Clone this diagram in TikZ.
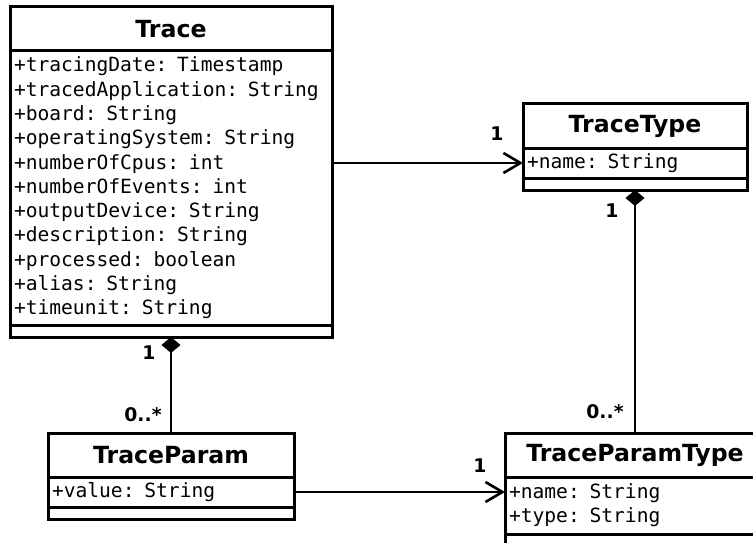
\documentclass[tikz,border=0pt]{standalone}
\usepackage{fontspec}
\setmainfont{DejaVu Sans}
\setmonofont{DejaVu Sans Mono}
\usetikzlibrary{arrows.meta,positioning,calc}

\begin{document}
\begin{tikzpicture}[x=1pt,y=1pt]
\tikzstyle{trait}=[line width=3pt]
\tikzstyle{lien}=[line width=2.6pt]
\tikzstyle{titre}=[draw,trait,outer sep=0pt,inner sep=0pt,minimum height=44pt,font=\bfseries\fontsize{23.6}{28}\selectfont]
\tikzstyle{attributs}=[draw,trait,outer sep=0pt,inner xsep=4pt,inner ysep=0pt,align=left,font=\ttfamily\fontsize{19.6}{24.3}\selectfont]
\tikzstyle{methodes}=[draw,trait,outer sep=0pt,inner sep=0pt,minimum height=12pt]
\tikzstyle{fleche}=[-{Straight Barb[length=17pt,width=20pt]},lien]
\tikzstyle{compo}=[{Diamond[length=16pt,width=19pt]}-,lien]
\tikzstyle{card}=[inner sep=0pt,font=\bfseries\fontsize{18.8}{22}\selectfont]
\def\LargeurTrace{322}
\def\LargeurType{224}
\def\LargeurParam{246}
\def\LargeurParamType{260}
\clip (0,0) rectangle (753,-543);
% Trace
\node[titre,minimum width=\LargeurTrace,anchor=north] (Trace) at (171,-7) {Trace};
\node[attributs,text width={\LargeurTrace-8},minimum height=274pt,below=0pt of Trace] (TraceAttr) {+tracingDate: Timestamp\\+tracedApplication: String\\+board: String\\+operatingSystem: String\\+numberOfCpus: int\\+numberOfEvents: int\\+outputDevice: String\\+description: String\\+processed: boolean\\+alias: String\\+timeunit: String};
\node[methodes,minimum width=\LargeurTrace,below=0pt of TraceAttr] (TraceMeth) {};
% TraceType
\node[titre,minimum width=\LargeurType,anchor=north] (Type) at (635,-104) {TraceType};
\node[attributs,text width={\LargeurType-8},minimum height=30pt,below=0pt of Type] (TypeAttr) {+name: String};
\node[methodes,minimum width=\LargeurType,below=0pt of TypeAttr] (TypeMeth) {};
% TraceParam
\node[titre,minimum width=\LargeurParam,anchor=north] (Param) at (171,-433) {TraceParam};
\node[attributs,text width={\LargeurParam-8},minimum height=30pt,below=0pt of Param] (ParamAttr) {+value: String};
\node[methodes,minimum width=\LargeurParam,below=0pt of ParamAttr] (ParamMeth) {};
% TraceParamType
\node[titre,minimum width=\LargeurParamType,anchor=north] (ParamType) at (635,-433) {TraceParamType};
\node[attributs,text width={\LargeurParamType-8},minimum height=57pt,below=0pt of ParamType] (ParamTypeAttr) {+name: String\\+type: String};
\node[methodes,minimum width=\LargeurParamType,below=0pt of ParamTypeAttr] (ParamTypeMeth) {};
% liens
\draw[fleche] (TraceAttr.east |- TypeAttr.west) -- (TypeAttr.west);
\draw[fleche] (ParamAttr.east) -- (ParamAttr.east -| ParamTypeAttr.west);
\draw[compo] (TraceMeth.south) -- (Param.north);
\draw[compo] (TypeMeth.south) -- (ParamType.north);
% cardinalites
\node[card] (cType) at (497,-134) {1};
\node[card] (cTypeB) at (612,-211) {1};
\node[card] (cParamType) at (605,-412) {0..*};
\node[card] (cParamTypeB) at (480,-466) {1};
\node[card] (cTrace) at (149,-353) {1};
\node[card] (cParam) at (143,-415) {0..*};
\end{tikzpicture}
\end{document}
